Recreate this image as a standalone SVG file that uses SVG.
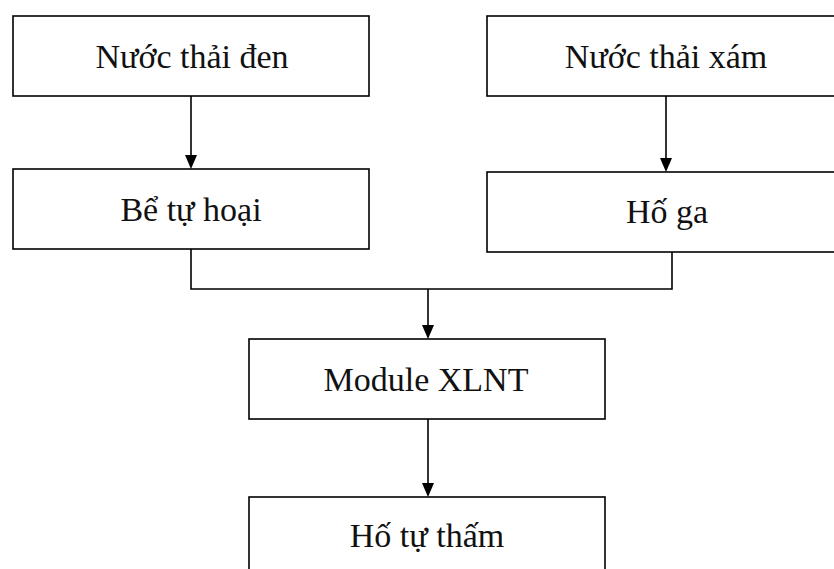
<svg xmlns="http://www.w3.org/2000/svg" width="834" height="569" viewBox="0 0 834 569">
<style>
.box{fill:#fff;stroke:#000;stroke-width:1.6}
.lbl{font-family:"Liberation Serif","Times New Roman",serif;font-size:34px;fill:#111;text-anchor:middle}
.conn{fill:none;stroke:#000;stroke-width:1.6}
</style>
<rect width="834" height="569" fill="#fff"/>
<g id="n1"><rect class="box" x="13" y="16" width="356" height="80"/><text class="lbl" x="192" y="68">Nước thải đen</text></g>
<g id="n2"><rect class="box" x="487" y="16" width="360" height="80"/><text class="lbl" x="666" y="68">Nước thải xám</text></g>
<g id="n3"><rect class="box" x="13" y="169" width="356" height="80"/><text class="lbl" x="191" y="221">Bể tự hoại</text></g>
<g id="n4"><rect class="box" x="487" y="172" width="360" height="80"/><text class="lbl" x="667" y="223">Hố ga</text></g>
<g id="n5"><rect class="box" x="249" y="339" width="356" height="80"/><text class="lbl" x="426" y="391">Module XLNT</text></g>
<g id="n6"><rect class="box" x="249" y="497" width="356" height="90"/><text class="lbl" x="427" y="547">Hố tự thấm</text></g>
<g id="connectors">
<path class="conn" d="M191,96 V155"/><path d="M185,155 L197,155 L191,169 Z"/>
<path class="conn" d="M666,96 V158"/><path d="M660,158 L672,158 L666,172 Z"/>
<path class="conn" d="M191,249 V289 H672 V252"/>
<path class="conn" d="M428,289 V325"/><path d="M422,325 L434,325 L428,339 Z"/>
<path class="conn" d="M428,419 V483"/><path d="M422,483 L434,483 L428,497 Z"/>
</g>
</svg>
